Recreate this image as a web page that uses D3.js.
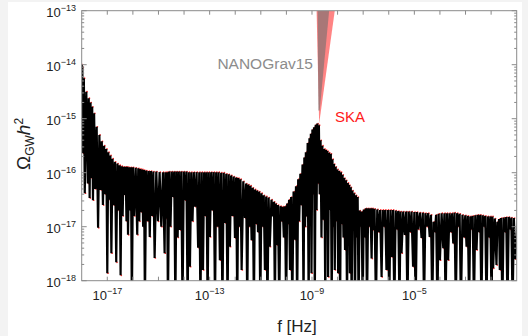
<!DOCTYPE html>
<html>
<head>
<meta charset="utf-8">
<script src="https://cdn.jsdelivr.net/npm/d3@7"></script>
<style>
  html, body { margin: 0; padding: 0; background: #f3f3f3; }
  svg { display: block; }
  text { font-family: "Liberation Sans", Arial, sans-serif; }
</style>
</head>
<body>
<div id="chart"></div>
<script>
// all values are log10 (frequency in Hz, Omega_GW h^2)
const xDomainExp = [-18, -1];
const yDomainExp = [-18, -13];
const xTickExps = [-17, -13, -9, -5];
const yTickExps = [-18, -17, -16, -15, -14, -13];

// curve starts on a peak at the left edge
const startPoint = [-18.0, -14.0];
// each spike: [log f of trough, log peak just before it, log trough]
const spikes = [
  [-17.95, -14.05, -15.64], [-17.88, -14.25, -16.38], [-17.76, -14.50, -16.20], [-17.69, -14.62, -16.47],
  [-17.62, -14.70, -16.10], [-17.56, -14.78, -16.51], [-17.47, -14.90, -16.30], [-17.36, -15.15, -17.02],
  [-17.26, -15.30, -16.32], [-17.17, -15.42, -16.60], [-17.08, -15.50, -16.40], [-17.00, -15.56, -17.86],
  [-16.92, -15.62, -16.50], [-16.84, -15.68, -17.49], [-16.75, -15.74, -16.60], [-16.65, -15.80, -17.66],
  [-16.56, -15.83, -16.70], [-16.48, -15.86, -17.90], [-16.40, -15.88, -16.80], [-16.32, -15.89, -16.41],
  [-16.25, -15.89, -16.90], [-16.19, -15.89, -17.15], [-16.11, -15.90, -16.70], [-16.04, -15.90, -18.50],
  [-15.95, -15.90, -16.80], [-15.83, -15.91, -17.15], [-15.75, -15.92, -16.90], [-15.67, -15.93, -16.73],
  [-15.60, -15.94, -17.00], [-15.53, -15.95, -18.50], [-15.43, -15.96, -16.90], [-15.34, -15.97, -17.19],
  [-15.25, -15.97, -16.80], [-15.15, -15.98, -17.58], [-15.02, -15.98, -16.90], [-14.89, -15.99, -17.00],
  [-14.76, -15.99, -17.49], [-14.70, -15.99, -16.85], [-14.63, -15.99, -18.50], [-14.53, -15.98, -17.00],
  [-14.43, -15.98, -16.45], [-14.34, -15.98, -18.50], [-14.25, -15.98, -17.20], [-14.16, -15.98, -17.06],
  [-14.06, -15.98, -18.50], [-13.96, -15.98, -16.51], [-13.86, -15.98, -18.50], [-13.77, -15.99, -17.74],
  [-13.67, -15.99, -16.90], [-13.57, -15.99, -16.63], [-13.45, -15.99, -17.39], [-13.36, -15.99, -18.50],
  [-13.26, -15.99, -17.80], [-13.17, -15.99, -16.80], [-13.08, -15.99, -18.50], [-12.99, -15.99, -17.19],
  [-12.89, -15.99, -16.70], [-12.79, -15.99, -18.50], [-12.70, -15.99, -17.00], [-12.60, -15.99, -17.62],
  [-12.50, -16.00, -18.50], [-12.40, -16.00, -16.93], [-12.30, -16.02, -18.50], [-12.21, -16.03, -17.37],
  [-12.11, -16.05, -16.80], [-12.01, -16.07, -17.21], [-11.92, -16.09, -18.50], [-11.84, -16.10, -17.00],
  [-11.75, -16.12, -17.80], [-11.62, -16.16, -16.84], [-11.53, -16.20, -18.50], [-11.45, -16.22, -17.00],
  [-11.36, -16.24, -17.25], [-11.27, -16.28, -18.50], [-11.19, -16.31, -16.95], [-11.11, -16.33, -17.10],
  [-11.02, -16.35, -18.50], [-10.93, -16.38, -17.00], [-10.84, -16.42, -17.80], [-10.74, -16.44, -18.50],
  [-10.65, -16.46, -17.37], [-10.52, -16.50, -16.81], [-10.45, -16.54, -18.50], [-10.38, -16.57, -17.34],
  [-10.28, -16.60, -18.50], [-10.19, -16.62, -16.90], [-10.10, -16.63, -17.20], [-10.01, -16.62, -18.50],
  [-9.93, -16.57, -16.95], [-9.86, -16.50, -17.80], [-9.77, -16.45, -18.50], [-9.67, -16.35, -17.24],
  [-9.58, -16.25, -18.50], [-9.50, -16.12, -16.90], [-9.41, -16.02, -16.60], [-9.33, -15.85, -18.50],
  [-9.27, -15.72, -17.00], [-9.21, -15.62, -16.81], [-9.13, -15.45, -18.50], [-9.07, -15.36, -16.60],
  [-9.02, -15.28, -17.86], [-8.95, -15.20, -16.40], [-8.89, -15.16, -18.50], [-8.82, -15.11, -16.69],
  [-8.76, -15.09, -16.20], [-8.70, -15.12, -16.40], [-8.63, -15.40, -17.20], [-8.56, -15.50, -16.87],
  [-8.48, -15.56, -18.50], [-8.43, -15.58, -16.70], [-8.37, -15.60, -17.93], [-8.30, -15.63, -16.69],
  [-8.23, -15.65, -18.50], [-8.17, -15.75, -17.00], [-8.11, -15.84, -17.80], [-8.04, -15.89, -16.90],
  [-7.98, -15.94, -17.86], [-7.90, -15.97, -18.50], [-7.84, -15.99, -16.95], [-7.77, -16.04, -17.20],
  [-7.71, -16.10, -17.43], [-7.63, -16.14, -18.50], [-7.57, -16.19, -16.90], [-7.52, -16.23, -17.86],
  [-7.45, -16.27, -18.50], [-7.39, -16.33, -16.87], [-7.32, -16.38, -18.50], [-7.25, -16.42, -17.20],
  [-7.18, -16.45, -18.50], [-7.10, -16.70, -17.00], [-7.02, -16.72, -18.50], [-6.93, -16.68, -17.20],
  [-6.85, -16.66, -18.50], [-6.76, -16.66, -17.00], [-6.67, -16.66, -17.59], [-6.61, -16.66, -17.06],
  [-6.50, -16.67, -18.50], [-6.40, -16.68, -17.10], [-6.28, -16.69, -17.93], [-6.19, -16.69, -17.00],
  [-6.09, -16.69, -17.80], [-5.98, -16.69, -18.50], [-5.89, -16.69, -17.56], [-5.78, -16.69, -18.50],
  [-5.68, -16.70, -17.05], [-5.58, -16.71, -18.50], [-5.50, -16.72, -17.49], [-5.37, -16.72, -17.15],
  [-5.27, -16.72, -18.50], [-5.17, -16.72, -17.10], [-5.05, -16.72, -17.74], [-4.95, -16.73, -18.50],
  [-4.85, -16.73, -17.05], [-4.72, -16.74, -17.21], [-4.62, -16.74, -18.50], [-4.52, -16.75, -17.00],
  [-4.40, -16.75, -17.19], [-4.30, -16.78, -18.50], [-4.20, -16.91, -17.10], [-4.10, -16.78, -18.50],
  [-4.00, -16.76, -17.62], [-3.87, -16.75, -17.40], [-3.78, -16.75, -18.50], [-3.68, -16.75, -17.62],
  [-3.58, -16.75, -17.10], [-3.48, -16.75, -17.31], [-3.38, -16.74, -18.50], [-3.28, -16.75, -17.00],
  [-3.18, -16.76, -18.50], [-3.06, -16.78, -17.20], [-2.96, -16.79, -17.37], [-2.86, -16.80, -18.50],
  [-2.77, -16.81, -17.05], [-2.67, -16.80, -18.50], [-2.57, -16.79, -17.43], [-2.47, -16.78, -17.10],
  [-2.38, -16.78, -18.50], [-2.28, -16.79, -17.00], [-2.18, -16.80, -18.50], [-2.08, -16.81, -17.20],
  [-1.98, -16.81, -18.50], [-1.92, -16.81, -17.77], [-1.79, -16.85, -17.71], [-1.72, -16.91, -17.10],
  [-1.66, -16.86, -17.80], [-1.56, -16.84, -18.50], [-1.46, -16.83, -17.10], [-1.36, -16.82, -18.50],
  [-1.26, -16.82, -17.05], [-1.16, -16.83, -18.50], [-1.06, -16.84, -17.60]
];
const endPoint = [-0.95, -16.84];

// sensitivity wedges near 1e-9 Hz
const skaF = [-8.82, -8.11, -8.72];
const skaO = [-13.0, -13.0, -15.09];
const nanoF = [-8.78, -8.33, -8.70, -8.75];
const nanoO = [-13.0, -13.0, -14.85, -14.85];

const W = 528, H = 336;
const p10 = e => Math.pow(10, e);

const svg = d3.select('#chart').append('svg')
  .attr('width', W)
  .attr('height', H);

svg.append('rect').attr('width', W).attr('height', H).attr('fill', '#f3f3f3');
svg.append('rect').attr('x', 8).attr('y', 2).attr('width', 514).attr('height', H - 2).attr('fill', '#fff');

const pL = 81.7, pR = 516.7, pT = 10.7, pB = 280.7;

const x = d3.scaleLog().domain(xDomainExp.map(p10)).range([pL, pR]);
const y = d3.scaleLog().domain(yDomainExp.map(p10)).range([pB, pT]);

svg.append('clipPath').attr('id', 'plot')
  .append('rect')
  .attr('x', pL).attr('y', pT)
  .attr('width', pR - pL).attr('height', pB - pT);

// build peak/trough sequence
let pts = [startPoint];
let prevF = startPoint[0];
spikes.forEach(s => {
  pts.push([(prevF + s[0]) / 2, s[1]]);
  pts.push([s[0], s[2]]);
  prevF = s[0];
});
pts.push(endPoint);

const line = d3.line()
  .x(d => x(p10(d[0])))
  .y(d => y(p10(d[1])));

const plot = svg.append('g').attr('clip-path', 'url(#plot)');

plot.selectAll('circle.tip')
  .data(pts)
  .enter()
  .append('circle')
  .attr('class', 'tip')
  .attr('cx', d => x(p10(d[0])) + 0.7)
  .attr('cy', d => y(p10(d[1])))
  .attr('r', 0.85)
  .attr('fill', '#ff3030');

plot.append('path')
  .datum(pts)
  .attr('d', line)
  .attr('fill', 'none')
  .attr('stroke', '#000')
  .attr('stroke-width', 2.2)
  .attr('stroke-linejoin', 'bevel');

const poly = (fs, os) => fs.map((f, i) => [x(p10(f)), y(p10(os[i]))].join(',')).join(' ');

plot.append('polygon')
  .attr('points', poly(skaF, skaO))
  .attr('fill', 'rgba(255,50,50,0.6)');

plot.append('polygon')
  .attr('points', poly(nanoF, nanoO))
  .attr('fill', 'rgba(110,110,110,0.6)');

// frame
svg.append('rect')
  .attr('x', pL).attr('y', pT)
  .attr('width', pR - pL).attr('height', pB - pT)
  .attr('fill', 'none')
  .attr('stroke', '#8a8a8a')
  .attr('stroke-width', 1);

const axisG = svg.append('g').attr('stroke', '#8a8a8a').attr('stroke-width', 1);

// x ticks every decade, top and bottom
d3.range(xDomainExp[0] + 1, xDomainExp[1]).forEach(e => {
  const xx = x(p10(e));
  axisG.append('line').attr('x1', xx).attr('x2', xx).attr('y1', pB).attr('y2', pB - 4);
  axisG.append('line').attr('x1', xx).attr('x2', xx).attr('y1', pT).attr('y2', pT + 4);
});

// y ticks, majors + minors, left and right
y.ticks().forEach(v => {
  const yy = y(v);
  const major = Math.abs(Math.log10(v) - Math.round(Math.log10(v))) < 1e-6;
  const len = major ? 5 : 2.5;
  axisG.append('line').attr('x1', pL).attr('x2', pL + len).attr('y1', yy).attr('y2', yy);
  axisG.append('line').attr('x1', pR).attr('x2', pR - len).attr('y1', yy).attr('y2', yy);
});

// tick labels
const xl = svg.append('g');
xTickExps.forEach(e => {
  const t = xl.append('text')
    .attr('x', x(p10(e)))
    .attr('y', 300)
    .attr('text-anchor', 'middle')
    .attr('fill', '#222')
    .style('font-size', '13px');
  t.append('tspan').text('10');
  t.append('tspan').attr('dy', -6).style('font-size', '9px').text('\u2212' + Math.abs(e));
});

const yl = svg.append('g');
yTickExps.forEach(e => {
  const t = yl.append('text')
    .attr('x', 76)
    .attr('y', y(p10(e)) + 6.5)
    .attr('text-anchor', 'end')
    .attr('fill', '#222')
    .style('font-size', '13px');
  t.append('tspan').text('10');
  t.append('tspan').attr('dy', -6).style('font-size', '9px').text('\u2212' + Math.abs(e));
});

// axis titles
svg.append('text')
  .attr('x', 297)
  .attr('y', 331.5)
  .attr('text-anchor', 'middle')
  .attr('fill', '#222')
  .style('font-size', '17px')
  .text('f [Hz]');

const yt = svg.append('text')
  .attr('transform', 'translate(30,144) rotate(-90)')
  .attr('text-anchor', 'middle')
  .attr('fill', '#222')
  .style('font-size', '19px');
yt.append('tspan').text('\u03A9');
yt.append('tspan').attr('dy', 4).style('font-size', '12px').text('GW');
yt.append('tspan').attr('dy', -4).style('font-style', 'italic').text('h');
yt.append('tspan').attr('dy', -7).style('font-size', '12px').text('2');

// annotations
svg.append('text')
  .attr('x', 313)
  .attr('y', 69)
  .attr('text-anchor', 'end')
  .attr('fill', '#8c8c8c')
  .style('font-size', '15.5px')
  .text('NANOGrav15');

svg.append('text')
  .attr('x', 335)
  .attr('y', 122)
  .attr('fill', '#ff1a1a')
  .style('font-size', '15px')
  .text('SKA');
</script>
</body>
</html>
